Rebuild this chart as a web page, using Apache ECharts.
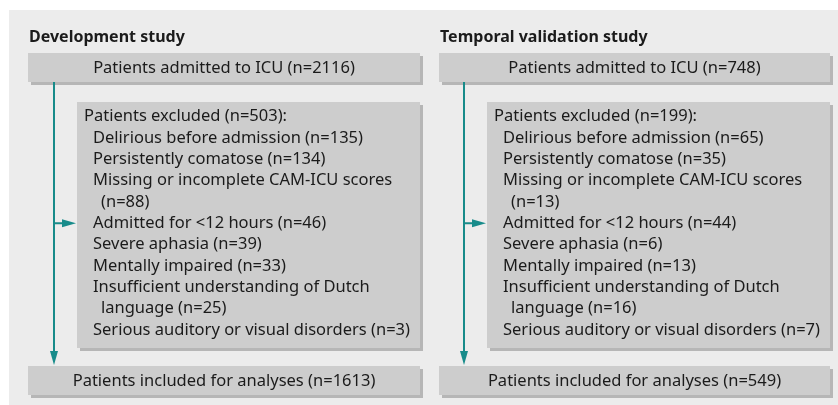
<!DOCTYPE html>
<html>
<head>
<meta charset="utf-8">
<script src="https://cdn.jsdelivr.net/npm/echarts@6/dist/echarts.min.js"></script>
<style>
html, body { margin: 0; padding: 0; background: #fff; }
#main { width: 838px; height: 405px; }
</style>
</head>
<body>
<div id="main"></div>
<script>
// flowchart data
var studies = ['Development study', 'Temporal validation study'];
var admitted = [2116, 748];
var excluded = [503, 199];
var included = [1613, 549];
// '\n' marks where the reason wraps onto a second line
var reasons = [
    'Delirious before admission',
    'Persistently comatose',
    'Missing or incomplete CAM-ICU scores\n',
    'Admitted for <12 hours',
    'Severe aphasia',
    'Mentally impaired',
    'Insufficient understanding of Dutch\nlanguage',
    'Serious auditory or visual disorders'
];
var devCounts = [135, 134, 88, 46, 39, 33, 25, 3];
var valCounts = [65, 35, 13, 44, 6, 13, 16, 7];

var FONT = '"Noto Sans", "Open Sans", sans-serif';
var FS = 16.5;
var TEAL = '#178b8a';
var BOX = '#cdcdcd';
var SHADOW = '#b6b6b6';
var INK = '#1b1b1b';

var columns = [
    { x0: 28, x1: 420, line: 54, exLeft: 77, counts: devCounts },
    { x0: 439, x1: 830, line: 464, exLeft: 487, counts: valCounts }
];

function box(x, y, w, h) {
    return [
        { type: 'rect', shape: { x: x + 3, y: y + 3, width: w, height: h }, style: { fill: SHADOW }, silent: true },
        { type: 'rect', shape: { x: x, y: y, width: w, height: h }, style: { fill: BOX }, silent: true }
    ];
}

function text(str, x, y, opts) {
    opts = opts || {};
    return {
        type: 'text', silent: true,
        style: {
            text: str, x: x, y: y,
            fill: INK,
            fontFamily: FONT,
            fontSize: opts.size || FS,
            fontWeight: opts.weight || 'normal',
            textAlign: opts.align || 'left',
            textVerticalAlign: 'middle'
        }
    };
}

function arrowHead(tx, ty, dir) {
    var len = 14, half = 4;
    var pts = dir === 'right'
        ? [[tx, ty], [tx - len, ty - half], [tx - len, ty + half]]
        : [[tx, ty], [tx - half, ty - len], [tx + half, ty - len]];
    return { type: 'polygon', shape: { points: pts }, style: { fill: TEAL }, silent: true };
}

var elements = [];
// background panel
elements.push({ type: 'rect', shape: { x: 9, y: 10, width: 829, height: 395 }, style: { fill: '#ececec' }, silent: true });

var lineY0 = 116.5, lineGap = 21.35;

columns.forEach(function (col, k) {
    var w = col.x1 - col.x0;
    var mid = (col.x0 + col.x1) / 2;
    elements.push(text(studies[k], col.x0 + 1, 37, { weight: 'bold', size: 16 }));

    // top box
    elements = elements.concat(box(col.x0, 53, w, 29));
    elements.push(text('Patients admitted to ICU (n=' + admitted[k] + ')', mid, 68, { align: 'center' }));

    // excluded box
    elements = elements.concat(box(col.exLeft, 102, col.x1 - col.exLeft, 246));
    var lines = [{ s: 'Patients excluded (n=' + excluded[k] + '):', dx: 7 }];
    var arrowRow = 0;
    reasons.forEach(function (r, i) {
        var parts = (r + ' (n=' + col.counts[i] + ')').split('\n');
        if (i === 3) arrowRow = lines.length;
        lines.push({ s: parts[0], dx: 16 });
        if (parts.length > 1) lines.push({ s: parts[1].trim(), dx: 24 });
    });
    lines.forEach(function (ln, j) {
        elements.push(text(ln.s, col.exLeft + ln.dx, lineY0 + j * lineGap));
    });

    // bottom box
    elements = elements.concat(box(col.x0, 366, w, 29));
    elements.push(text('Patients included for analyses (n=' + included[k] + ')', mid, 381, { align: 'center' }));

    // connectors
    var ay = lineY0 + arrowRow * lineGap;
    elements.push({ type: 'line', shape: { x1: col.line, y1: 82, x2: col.line, y2: 352 }, style: { stroke: TEAL, lineWidth: 2 }, silent: true });
    elements.push(arrowHead(col.line, 365, 'down'));
    elements.push({ type: 'line', shape: { x1: col.line, y1: ay, x2: col.exLeft - 12, y2: ay }, style: { stroke: TEAL, lineWidth: 2 }, silent: true });
    elements.push(arrowHead(col.exLeft - 1, ay, 'right'));
});

var chart = echarts.init(document.getElementById('main'), null, { renderer: 'canvas' });
chart.setOption({
    backgroundColor: '#ffffff',
    animation: false,
    graphic: { elements: elements }
});
</script>
</body>
</html>
